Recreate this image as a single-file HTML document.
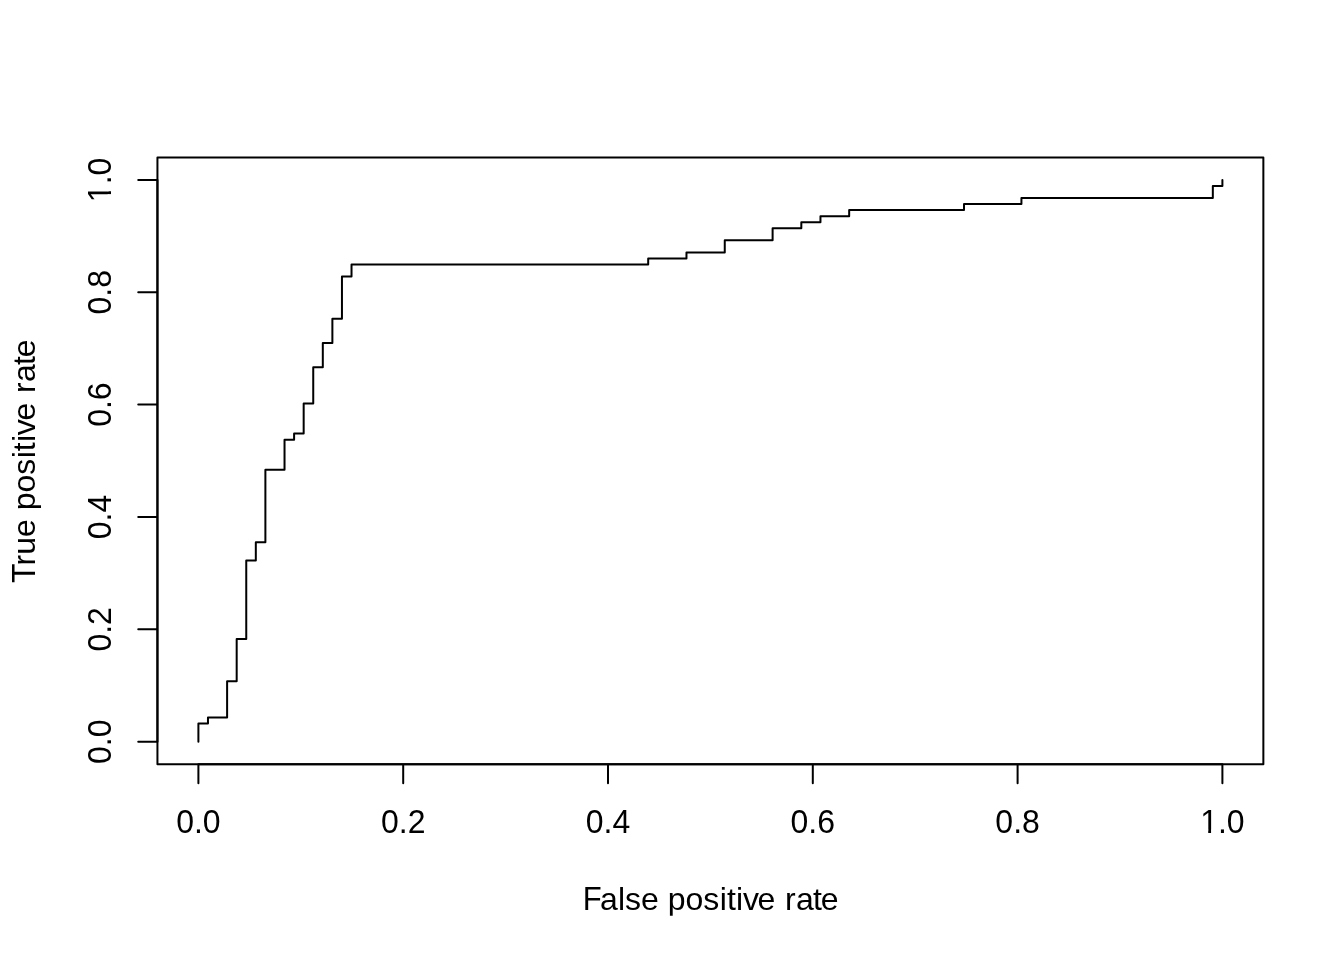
<!DOCTYPE html>
<html lang="en">
<head>
<meta charset="utf-8">
<title>ROC curve</title>
<style>
html,body{margin:0;padding:0;background:#fff;}
body{width:1344px;height:960px;overflow:hidden;}
svg{display:block;}
.ln{fill:none;stroke:#000;stroke-width:2;stroke-linecap:round;stroke-linejoin:round;}
.tx{font-family:"Liberation Sans",Arial,Helvetica,sans-serif;font-size:32px;fill:#000;font-kerning:none;white-space:pre;}
.tx .m{text-anchor:middle;}
.tx .cv{fill:#fff;}
</style>
</head>
<body>
<svg width="1344" height="960" viewBox="0 0 1344 960">
<defs>
<clipPath id="desc"><rect x="-200" y="-40" width="1300" height="45.75"/></clipPath>
<clipPath id="descv"><rect x="-200" y="-40" width="1300" height="46.45"/></clipPath>
</defs>
<rect x="0" y="0" width="1344" height="960" fill="#ffffff"/>
<g class="ln">
<polyline points="198.40,741.69 198.40,723.57 207.97,723.57 207.97,717.53 227.11,717.53 227.11,681.28 236.68,681.28 236.68,639.00 246.25,639.00 246.25,560.47 255.82,560.47 255.82,542.35 265.39,542.35 265.39,469.86 284.53,469.86 284.53,439.66 294.10,439.66 294.10,433.62 303.67,433.62 303.67,403.41 313.24,403.41 313.24,367.17 322.81,367.17 322.81,343.01 332.38,343.01 332.38,318.85 341.95,318.85 341.95,276.56 351.52,276.56 351.52,264.48 648.19,264.48 648.19,258.44 686.47,258.44 686.47,252.40 724.76,252.40 724.76,240.32 772.61,240.32 772.61,228.24 801.32,228.24 801.32,222.20 820.46,222.20 820.46,216.15 849.17,216.15 849.17,210.11 964.01,210.11 964.01,204.07 1021.43,204.07 1021.43,198.03 1212.83,198.03 1212.83,185.95 1222.40,185.95 1222.40,179.91"/>
<path d="M198.40 764.16H1222.40M198.40 764.16v19.2M403.20 764.16v19.2M608.00 764.16v19.2M812.80 764.16v19.2M1017.60 764.16v19.2M1222.40 764.16v19.2"/>
<path d="M157.44 741.69V179.91M157.44 741.69h-19.2M157.44 629.33h-19.2M157.44 516.98h-19.2M157.44 404.62h-19.2M157.44 292.27h-19.2M157.44 179.91h-19.2"/>
<rect x="157.44" y="157.44" width="1105.92" height="606.72"/>
</g>
<g class="tx">
<text class="m" transform="translate(198.40 833.28) scale(1 1.045)">0.0</text>
<text class="m" transform="translate(403.20 833.28) scale(1 1.045)">0.2</text>
<text class="m" transform="translate(608.00 833.28) scale(1 1.045)">0.4</text>
<text class="m" transform="translate(812.80 833.28) scale(1 1.045)">0.6</text>
<text class="m" transform="translate(1017.60 833.28) scale(1 1.045)">0.8</text>
<g transform="translate(1222.40 833.28) scale(1 1.045)"><text class="m">1.0</text><rect class="cv" x="-21.74" y="-3.5" width="7.55" height="5.5"/><rect class="cv" x="-11.34" y="-3.5" width="7.6" height="5.5"/></g>
<text class="m" transform="translate(111.36 741.69) rotate(-90) scale(1 1.045)">0.0</text>
<text class="m" transform="translate(111.36 629.33) rotate(-90) scale(1 1.045)">0.2</text>
<text class="m" transform="translate(111.36 516.98) rotate(-90) scale(1 1.045)">0.4</text>
<text class="m" transform="translate(111.36 404.62) rotate(-90) scale(1 1.045)">0.6</text>
<text class="m" transform="translate(111.36 292.27) rotate(-90) scale(1 1.045)">0.8</text>
<g transform="translate(111.36 179.91) rotate(-90) scale(1 1.045)"><text class="m">1.0</text><rect class="cv" x="-21.74" y="-3.5" width="7.55" height="5.5"/><rect class="cv" x="-11.34" y="-3.5" width="7.6" height="5.5"/></g>
<text transform="translate(0 910.08)" x="582.63 600.11 617.91 625.02 641.02 658.81 667.70 685.50 703.30 719.80 726.90 736.10 742.90 757.60 776.20 785.10 796.00 813.05 820.80" y="0" clip-path="url(#desc)"><tspan font-size="33.92" textLength="18.96" lengthAdjust="spacingAndGlyphs">F</tspan>alse positive rate</text>
<text transform="translate(34.56 460.80) rotate(-90)" x="-122.32 -104.66 -94.00 -76.20 -58.41 -49.52 -31.72 -13.92 2.58 9.68 18.88 25.68 40.38 58.50 67.88 78.78 95.83 103.58" y="0" clip-path="url(#descv)"><tspan font-size="33.92" textLength="19.55" lengthAdjust="spacingAndGlyphs">T</tspan>rue positive rate</text>
</g>
</svg>
</body>
</html>
